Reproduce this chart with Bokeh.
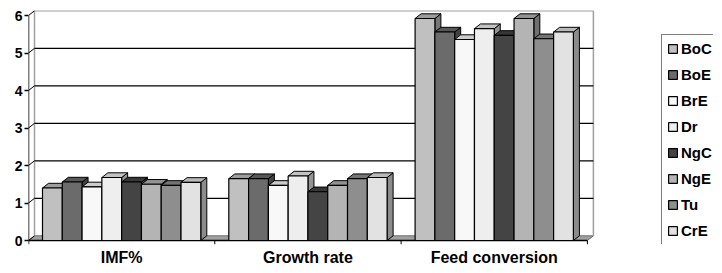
from bokeh.plotting import figure
from bokeh.models import FixedTicker, Legend, LegendItem
from bokeh.embed import file_html
from bokeh.resources import INLINE

categories = ["IMF%", "Growth rate", "Feed conversion"]
series = ["BoC", "BoE", "BrE", "Dr", "NgC", "NgE", "Tu", "CrE"]
BoC = [1.40, 1.65, 5.92]
BoE = [1.56, 1.65, 5.56]
BrE = [1.43, 1.47, 5.36]
Dr = [1.68, 1.72, 5.65]
NgC = [1.56, 1.30, 5.47]
NgE = [1.50, 1.47, 5.92]
Tu = [1.47, 1.65, 5.38]
CrE = [1.55, 1.68, 5.56]
values = [BoC, BoE, BrE, Dr, NgC, NgE, Tu, CrE]
colors = ["#C0C0C0", "#6B6B6B", "#F8F8F8", "#EEEEEE", "#444444", "#B4B4B4", "#8E8E8E", "#E2E2E2"]
y_ticks = [0, 1, 2, 3, 4, 5, 6]

FONT = "Liberation Sans"
PX_X = 186.3   # px per category
PX_Y = 37.5    # px per unit
W, H = 713, 269
ML, MR, MT, MB = 28, 0, 10, 25
frame_w = W - ML - MR
frame_h = H - MT - MB
y0 = -4 / PX_Y
p = figure(width=W, height=H, output_backend="svg", toolbar_location=None,
           x_range=(0, frame_w / PX_X), y_range=(y0, y0 + frame_h / PX_Y),
           min_border_left=ML, min_border_right=MR, min_border_top=MT, min_border_bottom=MB)
p.outline_line_color = None
p.xgrid.visible = False
p.ygrid.visible = False
p.background_fill_color = "white"
p.border_fill_color = "white"

dx = 6 / PX_X
dy = 4.7 / PX_Y
ncat = len(categories)
ymax = y_ticks[-1]

def shade(c, f):
    r, g, b = int(c[1:3], 16), int(c[3:5], 16), int(c[5:7], 16)
    return "#%02x%02x%02x" % (int(r * f), int(g * f), int(b * f))

# floor
p.patch([0, ncat, ncat + dx, dx], [0, 0, dy, dy], fill_color="#A0A0A0", line_color="#707070", line_width=1)
# back wall
p.segment(x0=[dx, ncat + dx, dx], y0=[dy, dy, ymax + dy], x1=[dx, ncat + dx, ncat + dx], y1=[ymax + dy, ymax + dy, ymax + dy],
          line_color="#A0A0A0", line_width=1.5)
grid_v = y_ticks[1:-1]
p.segment(x0=[dx] * len(grid_v), y0=[v + dy for v in grid_v], x1=[ncat + dx] * len(grid_v), y1=[v + dy for v in grid_v],
          line_color="black", line_width=1.2)
# diagonals from front axis to back wall
p.segment(x0=[0] * len(y_ticks), y0=y_ticks, x1=[dx] * len(y_ticks), y1=[v + dy for v in y_ticks], line_color="black", line_width=1)
# front axis line and baseline
p.segment(x0=[0, 0], y0=[y0, 0], x1=[0, ncat], y1=[ymax, 0], line_color="black", line_width=1.5)
# category boundary ticks
bt = list(range(1, ncat + 1))
p.segment(x0=bt, y0=[0] * len(bt), x1=bt, y1=[y0] * len(bt), line_color="black", line_width=1)

nser = len(series)
gap = 14 / PX_X
bw = (1 - 2 * gap) / nser
front_r = []
for j in range(nser):
    vals = values[j]
    lefts = [i + gap + j * bw for i in range(ncat)]
    rights = [l + bw for l in lefts]
    side_xs = [[r, r + dx, r + dx, r] for r in rights]
    side_ys = [[0, dy, v + dy, v] for v in vals]
    top_xs = [[l, r, r + dx, l + dx] for l, r in zip(lefts, rights)]
    top_ys = [[v, v, v + dy, v + dy] for v in vals]
    p.patches(side_xs, side_ys, fill_color=shade(colors[j], 0.62), line_color="black", line_width=1)
    p.patches(top_xs, top_ys, fill_color=shade(colors[j], 0.82), line_color="black", line_width=1)
    r = p.quad(left=lefts, right=rights, bottom=[0] * ncat, top=vals, fill_color=colors[j], line_color="black", line_width=1.2)
    front_r.append(r)

# axes
p.yaxis.ticker = FixedTicker(ticks=y_ticks)
p.yaxis.axis_line_color = None
p.yaxis.major_tick_out = 4
p.yaxis.major_tick_in = 0
p.yaxis.minor_tick_line_color = None
p.yaxis.major_tick_line_color = "black"
p.yaxis.major_tick_line_width = 1.5
p.yaxis.major_label_standoff = 2
p.yaxis.major_label_text_font = FONT
p.yaxis.major_label_text_font_style = "bold"
p.yaxis.major_label_text_font_size = "14px"
p.yaxis.major_label_text_color = "black"

centers = [i + 0.5 for i in range(ncat)]
p.xaxis.ticker = FixedTicker(ticks=centers)
p.xaxis.major_label_overrides = {c: lab for c, lab in zip(centers, categories)}
p.xaxis.axis_line_color = None
p.xaxis.major_tick_line_color = None
p.xaxis.minor_tick_line_color = None
p.xaxis.major_tick_out = 0
p.xaxis.major_label_standoff = 4
p.xaxis.major_label_text_font = FONT
p.xaxis.major_label_text_font_style = "bold"
p.xaxis.major_label_text_font_size = "16px"
p.xaxis.major_label_text_color = "black"

legend = Legend(items=[LegendItem(label=s, renderers=[front_r[j]]) for j, s in enumerate(series)],
                location=(633, -1))
legend.glyph_width = 11
legend.glyph_height = 11
legend.label_height = 11
legend.spacing = 9
legend.padding = 5
legend.margin = 0
legend.label_standoff = 3
legend.label_text_font = FONT
legend.label_text_font_style = "bold"
legend.label_text_font_size = "15px"
legend.label_text_color = "black"
legend.border_line_color = "black"
legend.border_line_width = 1
legend.background_fill_color = "white"
legend.background_fill_alpha = 1
p.add_layout(legend)

open("out.html", "w").write(file_html(p, INLINE))
